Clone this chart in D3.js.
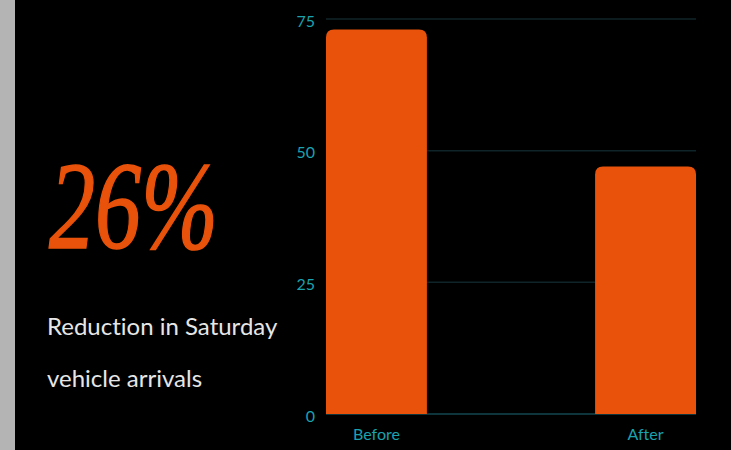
<!DOCTYPE html>
<html>
<head>
<meta charset="utf-8">
<script src="https://cdn.jsdelivr.net/npm/d3@7"></script>
<style>
  body { margin: 0; background: #000; }
  svg { display: block; }
  text { font-variant-ligatures: none; }
</style>
</head>
<body>
<svg id="chart"></svg>
<script>
// data
const categories = ["Before", "After"];
const values = [73, 47];
const yTicks = [0, 25, 50, 75];

const width = 731, height = 450;
const svg = d3.select("#chart")
    .attr("width", width)
    .attr("height", height);

svg.append("rect").attr("width", width).attr("height", height).attr("fill", "#000");
// grey strip on the left
svg.append("rect").attr("width", 15).attr("height", height).attr("fill", "#b4b4b4");

// headline number + caption
svg.append("text")
    .attr("x", 49).attr("y", 248)
    .attr("font-family", "Liberation Serif, serif")
    .attr("font-style", "italic")
    .attr("font-size", 124)
    .attr("textLength", 169)
    .attr("lengthAdjust", "spacingAndGlyphs")
    .attr("fill", "#e8520a")
    .attr("stroke", "#e8520a")
    .attr("stroke-width", 1.6)
    .text("26%");

const caption = ["Reduction in Saturday", "vehicle arrivals"];
svg.selectAll("text.caption")
    .data(caption)
    .enter().append("text")
    .attr("class", "caption")
    .attr("x", 47)
    .attr("y", (d, i) => 335 + i * 52)
    .attr("font-family", "Lato, sans-serif")
    .attr("font-size", 24)
    .attr("fill", "#e6e6e6")
    .text(d => d);

// scales
const x = d3.scaleBand()
    .domain(categories)
    .range([326, 696])
    .paddingInner(0.625)
    .paddingOuter(0);

const y = d3.scaleLinear()
    .domain([0, 75])
    .range([414, 19]);

// gridlines
svg.append("g")
    .selectAll("line")
    .data(yTicks)
    .enter().append("line")
    .attr("x1", 326).attr("x2", 696)
    .attr("y1", d => y(d)).attr("y2", d => y(d))
    .attr("stroke", d => d === 0 ? "#12474f" : "#0f2428")
    .attr("stroke-width", 1.5);

// y axis labels
const yAxis = svg.append("g")
    .attr("transform", "translate(315,2)")
    .call(d3.axisLeft(y).tickValues(yTicks).tickSize(0).tickPadding(0));
yAxis.select(".domain").remove();
yAxis.selectAll("text")
    .attr("font-family", "Lato, sans-serif")
    .attr("font-size", 16)
    .attr("fill", "#1aa2ae");

// x axis labels
const xAxis = svg.append("g")
    .attr("transform", "translate(0,429)")
    .call(d3.axisBottom(x).tickSize(0).tickPadding(0));
xAxis.select(".domain").remove();
xAxis.selectAll("text")
    .attr("font-family", "Lato, sans-serif")
    .attr("font-size", 16)
    .attr("fill", "#1aa2ae");

// bars: rounded top corners only
const r = 8;
svg.append("g")
    .selectAll("path")
    .data(categories)
    .enter().append("path")
    .attr("fill", "#e8520a")
    .attr("d", (d, i) => {
        const x0 = x(d), x1 = x(d) + x.bandwidth();
        const y0 = y(values[i]), y1 = y(0);
        return `M${x0},${y1} V${y0 + r} Q${x0},${y0} ${x0 + r},${y0} H${x1 - r} Q${x1},${y0} ${x1},${y0 + r} V${y1} Z`;
    });
</script>
</body>
</html>
